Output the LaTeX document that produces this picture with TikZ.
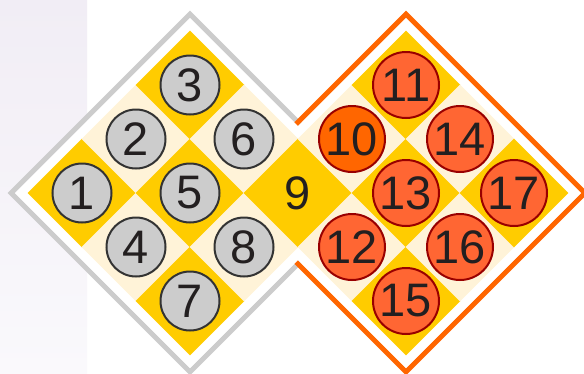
\documentclass[tikz,border=0pt]{standalone}
\usepackage{fontspec}
\setmainfont{Liberation Sans}
\usetikzlibrary{calc}
\definecolor{strip}{HTML}{F1EDF5}
\definecolor{stripb}{HTML}{FAF9FC}
\definecolor{goldc}{HTML}{FFCC00}
\definecolor{creamc}{HTML}{FFF3D8}
\definecolor{grayl}{HTML}{CCCCCC}
\definecolor{orgl}{HTML}{FF6600}
\definecolor{orgc}{HTML}{FF6633}
\definecolor{redb}{HTML}{990000}
\definecolor{txt}{HTML}{231F20}
\tikzset{
  gball/.style={circle,draw=black!80,line width=2pt,fill=grayl,minimum size=59pt,inner sep=0pt,font=\fontsize{47}{47}\selectfont,text=txt},
  oball/.style={gball,draw=redb,fill=orgc,minimum size=66pt},
  plain/.style={inner sep=0pt,font=\fontsize{47}{47}\selectfont,text=txt}
}
\newcommand{\dia}[4]{\fill[#4] (#1-#3,-#2) -- (#1,-#2+#3) -- (#1+#3,-#2) -- (#1,-#2-#3) -- cycle;}
\begin{document}
\begin{tikzpicture}[x=1pt,y=1pt]
\useasboundingbox (0,0) rectangle (584,-373);
\fill[white] (0,0) rectangle (584,-373);
\shade[top color=strip,bottom color=stripb] (0,0) rectangle (87,-373);
% outlines
\draw[grayl,line width=5.2pt,miter limit=10] (190-178.7,-193) -- (190,-193+178.7) -- (190+178.7,-193) -- (190,-193-178.7) -- cycle;
\draw[orgl,line width=5.2pt,miter limit=10] (406-178.7,-193) -- (406,-193+178.7) -- (406+178.7,-193) -- (406,-193-178.7) -- cycle;
\dia{190}{193}{175}{white}
\dia{406}{193}{175}{white}
% grids
\foreach \x/\y/\c in {82/193/goldc,136/139/creamc,190/85/goldc,136/247/creamc,190/193/goldc,244/139/creamc,190/301/goldc,244/247/creamc,298/193/goldc,
  352/139/creamc,406/85/goldc,352/247/creamc,406/193/goldc,460/139/creamc,406/301/goldc,460/247/creamc,514/193/goldc}
  {\dia{\x}{\y}{54.3}{\c}}
% balls
\node[gball] (c1) at (82,-193) {1};
\node[gball] (c2) at (136,-139) {2};
\node[gball] (c3) at (190,-85) {3};
\node[gball] (c4) at (136,-247) {4};
\node[gball] (c5) at (190,-193) {5};
\node[gball] (c6) at (244,-139) {6};
\node[gball] (c7) at (190,-301) {7};
\node[gball] (c8) at (244,-247) {8};
\node[plain] (c9) at (298,-193) {9};
\node[oball,fill=orgl] (c10) at (352,-139) {10};
\node[oball] (c11) at (406,-85) {11};
\node[oball] (c12) at (352,-247) {12};
\node[oball] (c13) at (406,-193) {13};
\node[oball] (c14) at (460,-139) {14};
\node[oball] (c15) at (406,-301) {15};
\node[oball] (c16) at (460,-247) {16};
\node[oball] (c17) at (514,-193) {17};
\end{tikzpicture}
\end{document}
